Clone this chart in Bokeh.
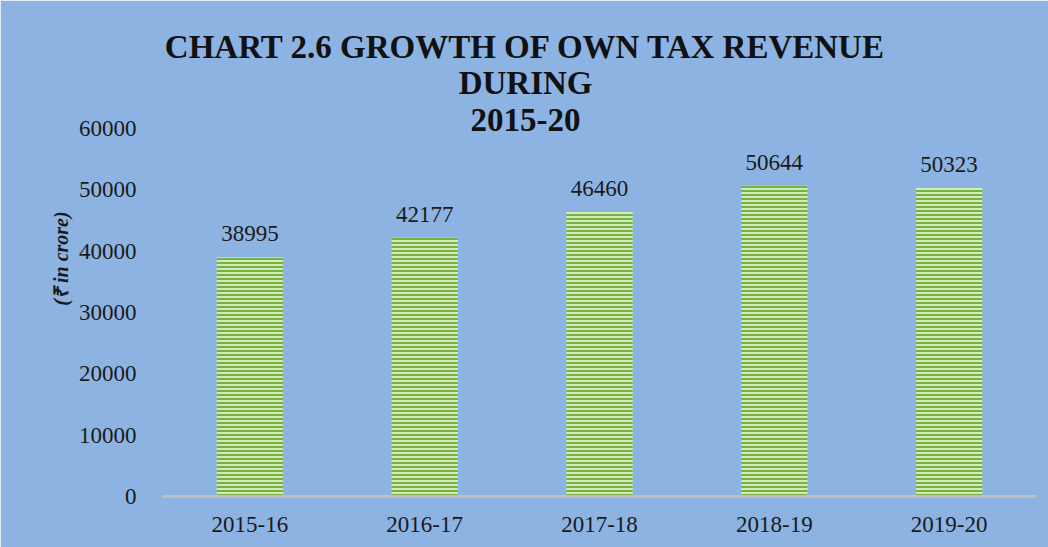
from bokeh.plotting import figure
from bokeh.models import ColumnDataSource, LabelSet, Label, FactorRange, Range1d, FixedTicker
from bokeh.core.properties import value
from bokeh.embed import file_html
from bokeh.resources import INLINE

years = ["2015-16", "2016-17", "2017-18", "2018-19", "2019-20"]
revenue = [38995, 42177, 46460, 50644, 50323]
y_ticks = [0, 10000, 20000, 30000, 40000, 50000, 60000]
title_lines = ["CHART 2.6 GROWTH OF OWN TAX REVENUE", "DURING", "2015-20"]
y_label = "(\u20b9 in crore)"

BG = "#8DB3E2"
SERIF = "Liberation Serif"

src = ColumnDataSource(dict(year=years, value=revenue, label=[str(v) for v in revenue]))

# frame extends above the 60000 tick so that the title lines can sit inside it
p = figure(width=1048, height=547, x_range=FactorRange(*years), y_range=Range1d(0, 77600),
           output_backend="svg", toolbar_location=None,
           min_border_left=162, min_border_right=12, min_border_top=20, min_border_bottom=51)
p.background_fill_color = BG
p.border_fill_color = BG
p.outline_line_color = BG
p.outline_line_width = 2
p.xgrid.visible = False
p.ygrid.visible = False

p.vbar(x="year", top="value", width=0.38, source=src,
       fill_color="#D3EBB8", line_color=None,
       hatch_pattern="horizontal_line", hatch_color="#76B243", hatch_scale=4, hatch_weight=2)

labels = LabelSet(x="year", y="value", text="label", source=src, text_align="center",
                  text_baseline="alphabetic", y_offset=16, text_font=value("'Liberation Serif'"),
                  text_font_size="23px", text_color="#1a1a1a")
p.add_layout(labels)

# axes
p.xaxis.axis_line_color = "#BFBFBF"
p.xaxis.axis_line_width = 3
p.xaxis.major_tick_line_color = None
p.xaxis.minor_tick_line_color = None
p.xaxis.major_label_text_font = SERIF
p.xaxis.major_label_text_font_size = "23px"
p.xaxis.major_label_text_color = "#1a1a1a"
p.xaxis.major_label_standoff = 14

p.yaxis.ticker = FixedTicker(ticks=y_ticks)
p.yaxis.axis_line_color = None
p.yaxis.major_tick_line_color = None
p.yaxis.minor_tick_line_color = None
p.yaxis.major_label_text_font = SERIF
p.yaxis.major_label_text_font_size = "23px"
p.yaxis.major_label_text_color = "#1a1a1a"
p.yaxis.major_label_standoff = 20
p.yaxis.axis_label = y_label
p.yaxis.axis_label_text_font = SERIF
p.yaxis.axis_label_text_font_style = "bold italic"
p.yaxis.axis_label_text_font_size = "20px"
p.yaxis.axis_label_text_color = "#1a1a1a"
p.yaxis.axis_label_standoff = 4

# title lines
title_y = [73250, 67450, 61420]
for txt, ty in zip(title_lines, title_y):
    p.add_layout(Label(x=2.077, y=ty, text=txt, text_align="center", text_baseline="alphabetic",
                       text_font=SERIF, text_font_style="bold", text_font_size="33px",
                       text_color="#111111"))

open("out.html", "w").write(file_html(p, INLINE))
